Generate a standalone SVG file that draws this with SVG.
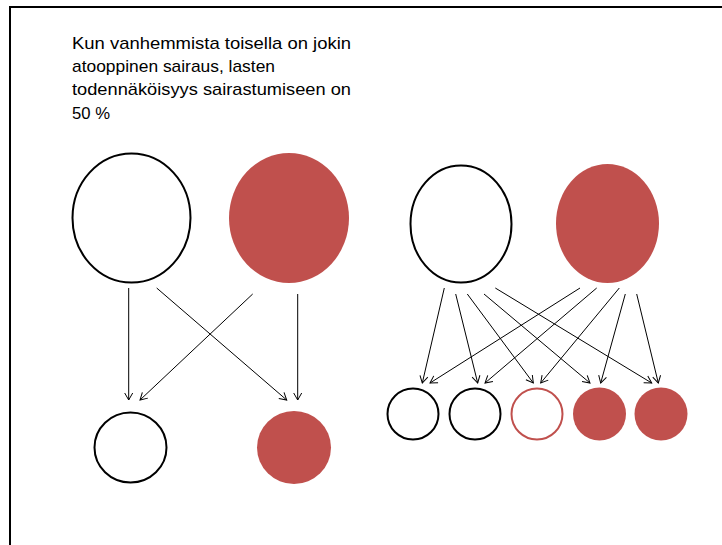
<svg xmlns="http://www.w3.org/2000/svg" width="722" height="545" viewBox="0 0 722 545">
<style>
.frame{fill:none;stroke:#000;stroke-width:2}
.w{fill:#fff;stroke:#000;stroke-width:2}
.r{fill:#C0504D;stroke:none}
.ro{fill:#fff;stroke:#C0504D;stroke-width:2}
.c{stroke:#000;stroke-width:1;fill:none;marker-end:url(#ah)}
.t{font-family:"Liberation Sans",Arial,sans-serif;font-size:17px;fill:#000}
</style>
<defs>
<marker id="ah" markerUnits="userSpaceOnUse" markerWidth="10" markerHeight="10" viewBox="0 0 10 10" refX="8" refY="5" orient="auto">
<path d="M1,1 L8,5 L1,9" fill="none" stroke="#000" stroke-width="1"/>
</marker>
</defs>
<rect width="722" height="545" fill="#fff"/>
<rect class="frame" x="10" y="7" width="720" height="545"/>
<g id="caption" class="t">
<text x="72" y="48.5" textLength="279" lengthAdjust="spacingAndGlyphs">Kun vanhemmista toisella on jokin</text>
<text x="72" y="72" textLength="203" lengthAdjust="spacingAndGlyphs">atooppinen sairaus, lasten</text>
<text x="72" y="95.3" textLength="279" lengthAdjust="spacingAndGlyphs">todennäköisyys sairastumiseen on</text>
<text x="72" y="118.6" textLength="38" lengthAdjust="spacingAndGlyphs">50 %</text>
</g>
<g id="connectors">
<line class="c" x1="128.7" y1="288" x2="128.7" y2="400"/>
<line class="c" x1="156.7" y1="288" x2="286.7" y2="400"/>
<line class="c" x1="252.7" y1="294" x2="140" y2="400"/>
<line class="c" x1="297.7" y1="294" x2="297.7" y2="400"/>
<line class="c" x1="444.3" y1="288" x2="422.3" y2="383"/>
<line class="c" x1="455.7" y1="294" x2="477.7" y2="383"/>
<line class="c" x1="467.3" y1="294" x2="533.3" y2="383"/>
<line class="c" x1="484" y1="294" x2="590" y2="383"/>
<line class="c" x1="495.3" y1="288" x2="651.7" y2="383"/>
<line class="c" x1="580" y1="288" x2="430" y2="383"/>
<line class="c" x1="596.7" y1="288" x2="485" y2="383"/>
<line class="c" x1="619.3" y1="288" x2="540.7" y2="383"/>
<line class="c" x1="625.3" y1="294" x2="600.7" y2="383"/>
<line class="c" x1="636.7" y1="294" x2="658.3" y2="383"/>
</g>
<g id="parent-left-healthy"><ellipse class="w" cx="131.5" cy="218" rx="59" ry="64.5"/></g>
<g id="parent-left-ill"><ellipse class="r" cx="289" cy="218" rx="60" ry="65"/></g>
<g id="child-left-healthy"><ellipse class="w" cx="130.5" cy="447.5" rx="36" ry="35"/></g>
<g id="child-left-ill"><ellipse class="r" cx="294" cy="447.5" rx="37" ry="36.5"/></g>
<g id="parent-right-healthy"><ellipse class="w" cx="461" cy="224" rx="50.5" ry="58.5"/></g>
<g id="parent-right-ill"><ellipse class="r" cx="607.5" cy="223.5" rx="51.5" ry="59.5"/></g>
<g id="child-1"><circle class="w" cx="413" cy="414" r="25.5"/></g>
<g id="child-2"><circle class="w" cx="475" cy="414" r="25.5"/></g>
<g id="child-3"><circle class="ro" cx="537" cy="414" r="25.5"/></g>
<g id="child-4"><circle class="r" cx="599.5" cy="414" r="26.5"/></g>
<g id="child-5"><circle class="r" cx="661" cy="414" r="26.5"/></g>
</svg>
